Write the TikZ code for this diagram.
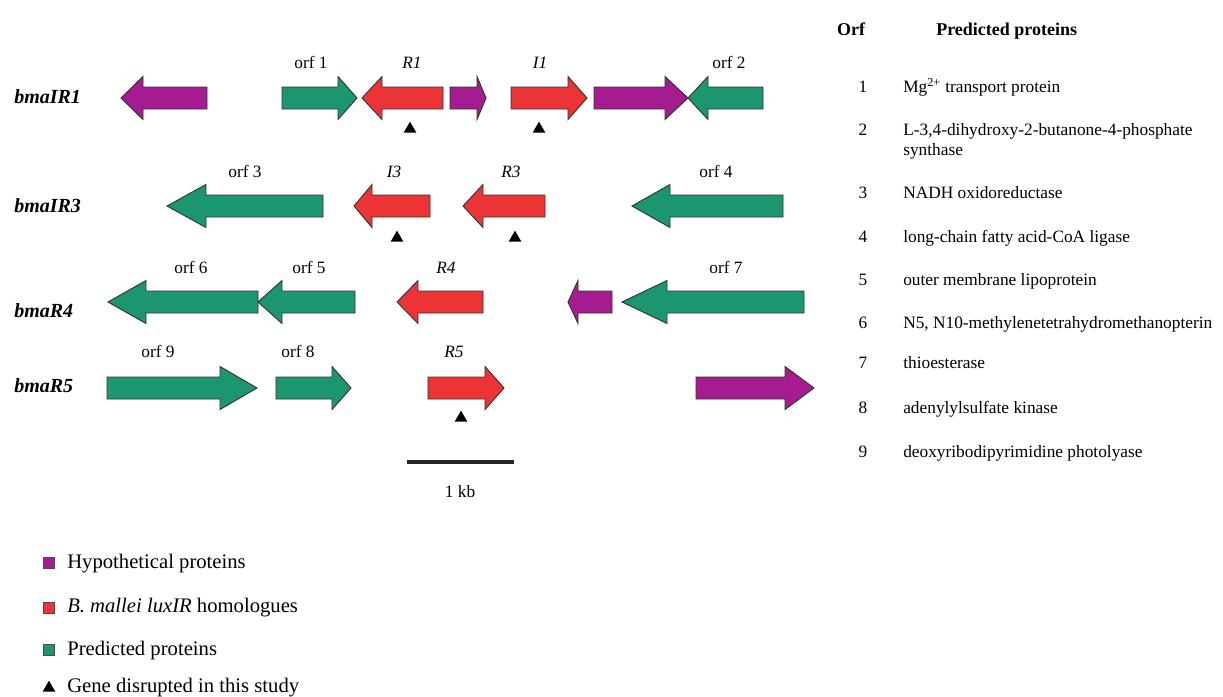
\documentclass[tikz,border=0pt]{standalone}
\usepackage{fontspec}
\setmainfont{Liberation Serif}
\usepackage{tikz}
\usetikzlibrary{shapes.geometric}

\definecolor{hypoC}{RGB}{165,28,145}
\definecolor{luxC}{RGB}{236,52,54}
\definecolor{predC}{RGB}{28,150,112}

\begin{document}
\begin{tikzpicture}[x=0.75pt, y=-0.75pt,
      gene/.style={draw=black!80, line width=0.7pt, line join=miter},
      hypo/.style={gene, fill=hypoC},
      lux/.style={gene, fill=luxC},
      pred/.style={gene, fill=predC},
      orf/.style={font=\fontsize{13}{15}\selectfont, anchor=base},
      gname/.style={font=\fontsize{15}{17}\selectfont\bfseries\itshape, anchor=base west, inner sep=0pt},
      hit/.style={regular polygon, regular polygon sides=3, fill=black, inner sep=0pt, minimum size=11pt},
      tab/.style={font=\fontsize{13}{15}\selectfont, anchor=base west, inner sep=0pt},
      num/.style={font=\fontsize{13}{15}\selectfont, anchor=base},
      leg/.style={font=\fontsize{15.5}{18}\selectfont, anchor=base west, inner sep=0pt},
      sq/.style={draw=black!70, line width=0.5pt, minimum size=8.5pt, inner sep=0pt}]

    % page frame (pixels of the reference)
    \useasboundingbox (0,0) rectangle (1223,696);

    % one gene: style, tail x, head base x, tip x, row y
    \def\gene#1#2#3#4#5{%
      \draw[#1] (#2,#5-11) -- (#3,#5-11) -- (#3,#5-21.5) -- (#4,#5)
        -- (#3,#5+21.5) -- (#3,#5+11) -- (#2,#5+11) -- cycle;}

    % row centres
    \def\yA{98}
    \def\yB{206}
    \def\yC{302}
    \def\yD{388}

    % Row names
    \node[gname] (nA) at (14,103) {bmaIR1};
    \node[gname] (nB) at (14,212) {bmaIR3};
    \node[gname] (nC) at (14,317) {bmaR4};
    \node[gname] (nD) at (14,392) {bmaR5};

    % bmaIR1
    \gene{hypo}{207}{143}{121}{\yA}
    \gene{pred}{282}{338}{357}{\yA}
    \gene{lux}{443}{382}{362}{\yA}
    \gene{hypo}{450}{477}{486}{\yA}
    \gene{lux}{511}{568}{587}{\yA}
    \gene{hypo}{594}{665}{688}{\yA}
    \gene{pred}{763}{708}{688}{\yA}
    \node[orf] (o1) at (311,68) {orf 1};
    \node[orf] (r1) at (412,68) {\itshape R1};
    \node[orf] (i1) at (540,68) {\itshape I1};
    \node[orf] (o2) at (729,68) {orf 2};
    \node[hit] (tR1) at (410,129) {};
    \node[hit] (tI1) at (539,129) {};

    % bmaIR3
    \gene{pred}{323}{206}{167}{\yB}
    \gene{lux}{430}{372}{354}{\yB}
    \gene{lux}{545}{483}{463}{\yB}
    \gene{pred}{783}{670}{632}{\yB}
    \node[orf] (o3) at (245,177) {orf 3};
    \node[orf] (i3) at (394,177) {\itshape I3};
    \node[orf] (r3) at (511,177) {\itshape R3};
    \node[orf] (o4) at (716,177) {orf 4};
    \node[hit] (tI3) at (397,238) {};
    \node[hit] (tR3) at (515,238) {};

    % bmaR4
    \gene{pred}{258}{146}{108}{\yC}
    \gene{pred}{355}{282}{258}{\yC}
    \gene{lux}{483}{418}{397}{\yC}
    \gene{hypo}{612}{578}{568}{\yC}
    \gene{pred}{804}{667}{622}{\yC}
    \node[orf] (o6) at (191,273) {orf 6};
    \node[orf] (o5) at (309,273) {orf 5};
    \node[orf] (r4) at (446,273) {\itshape R4};
    \node[orf] (o7) at (726,273) {orf 7};

    % bmaR5
    \gene{pred}{107}{220}{257}{\yD}
    \gene{pred}{276}{332}{351}{\yD}
    \gene{lux}{428}{485}{504}{\yD}
    \gene{hypo}{696}{785}{814}{\yD}
    \node[orf] (o9) at (158,357) {orf 9};
    \node[orf] (o8) at (298,357) {orf 8};
    \node[orf] (r5) at (454,357) {\itshape R5};
    \node[hit] (tR5) at (461,418) {};

    % Scale bar
    \coordinate (sbL) at (407,462);
    \coordinate (sbR) at (514,462);
    \draw[line width=2.4pt, black!85] (sbL) -- (sbR);
    \node[orf] (kb) at (460,497) {1 kb};

    % Table of predicted proteins
    \node[num, font=\fontsize{13.5}{15}\selectfont\bfseries] (hOrf) at (851,36) {Orf};
    \node[tab, font=\fontsize{13.5}{15}\selectfont\bfseries] (hPro) at (936,36) {Predicted proteins};
    \node[num] (n1) at (863,92)  {1};
    \node[tab] (p1) at (903,92)  {Mg\textsuperscript{2+} transport protein};
    \node[num] (n2) at (863,135) {2};
    \node[tab] (p2) at (903,135) {L-3,4-dihydroxy-2-butanone-4-phosphate};
    \node[tab] (p2b) at (903,155) {synthase};
    \node[num] (n3) at (863,198) {3};
    \node[tab] (p3) at (903,198) {NADH oxidoreductase};
    \node[num] (n4) at (863,242) {4};
    \node[tab] (p4) at (903,242) {long-chain fatty acid-CoA ligase};
    \node[num] (n5) at (863,285) {5};
    \node[tab] (p5) at (903,285) {outer membrane lipoprotein};
    \node[num] (n6) at (863,328) {6};
    \node[tab] (p6) at (903,328) {N5, N10-methylenetetrahydromethanopterin};
    \node[num] (n7) at (863,368) {7};
    \node[tab] (p7) at (903,368) {thioesterase};
    \node[num] (n8) at (863,413) {8};
    \node[tab] (p8) at (903,413) {adenylylsulfate kinase};
    \node[num] (n9) at (863,457) {9};
    \node[tab] (p9) at (903,457) {deoxyribodipyrimidine photolyase};

    % Legend
    \node[sq, fill=hypoC] (kH) at (49,563) {};
    \node[leg] (lH) at (67,568) {Hypothetical proteins};
    \node[sq, fill=luxC] (kL) at (49,608) {};
    \node[leg] (lL) at (67,612) {\itshape B. mallei luxIR\upshape{} homologues};
    \node[sq, fill=predC] (kP) at (49,650) {};
    \node[leg] (lP) at (67,655) {Predicted proteins};
    \node[hit] (kT) at (49,688) {};
    \node[leg] (lT) at (67,692) {Gene disrupted in this study};

\end{tikzpicture}
\end{document}
